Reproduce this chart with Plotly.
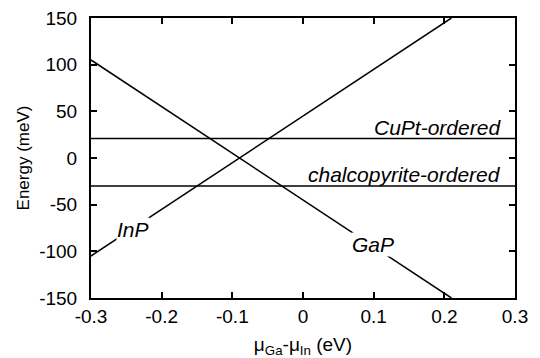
import plotly.graph_objects as go

# Data
mu = [-0.3, 0.3]
inp_x = [-0.3, 0.21]
inp_y = [-105, 150]
gap_x = [-0.3, 0.21]
gap_y = [105, -150]
cupt_y = [21, 21]
chalco_y = [-30, -30]

x_ticks = [-0.3, -0.2, -0.1, 0, 0.1, 0.2, 0.3]
x_ticklabels = ["-0.3", "-0.2", "-0.1", "0", "0.1", "0.2", "0.3"]
y_ticks = [-150, -100, -50, 0, 50, 100, 150]
y_ticklabels = ["-150", "-100", "-50", "0", "50", "100", "150"]

font = "Liberation Sans, Arial, sans-serif"
lw = 1.5

fig = go.Figure()
for xs, ys in [(inp_x, inp_y), (gap_x, gap_y), (mu, cupt_y), (mu, chalco_y)]:
    fig.add_trace(go.Scatter(x=xs, y=ys, mode="lines",
                             line=dict(color="black", width=lw),
                             showlegend=False, hoverinfo="skip"))

ann_font = dict(family=font, size=21, color="black")
fig.add_annotation(x=-0.241, y=-77, text="<i>InP</i>", showarrow=False,
                   font=ann_font, bgcolor="white", borderpad=0)
fig.add_annotation(x=0.099, y=-93, text="<i>GaP</i>", showarrow=False,
                   font=ann_font, bgcolor="white", borderpad=0)
fig.add_annotation(x=0.283, y=33, text="<i>CuPt-ordered</i>", showarrow=False,
                   xanchor="right", font=ann_font)
fig.add_annotation(x=0.283, y=-18, text="<i>chalcopyrite-ordered</i>", showarrow=False,
                   xanchor="right", font=ann_font)

axis_common = dict(showline=True, linecolor="black", linewidth=2, mirror="ticks",
                   ticks="inside", ticklen=6, tickwidth=1.5, tickcolor="black",
                   showgrid=False, zeroline=False, automargin=False,
                   tickfont=dict(family=font, size=19, color="black"))

fig.update_xaxes(range=[-0.3, 0.3], tickvals=x_ticks, ticktext=x_ticklabels,
                 ticklabelstandoff=0,
                 title=dict(text="μ<sub>Ga</sub>-μ<sub>In</sub> (eV)",
                            font=dict(family=font, size=19, color="black")),
                 **axis_common)
fig.update_yaxes(range=[-150, 150], tickvals=y_ticks, ticktext=y_ticklabels,
                 ticklabelstandoff=8,
                 title=dict(text="Energy (meV)", standoff=5,
                            font=dict(family=font, size=17, color="black")),
                 **axis_common)

fig.update_layout(width=540, height=358, margin=dict(l=91, r=25, t=18, b=60),
                  plot_bgcolor="white", paper_bgcolor="white")

fig.write_html("out.html", config={"displayModeBar": False},
               post_script="document.body.style.margin='0';document.body.style.padding='0';")
